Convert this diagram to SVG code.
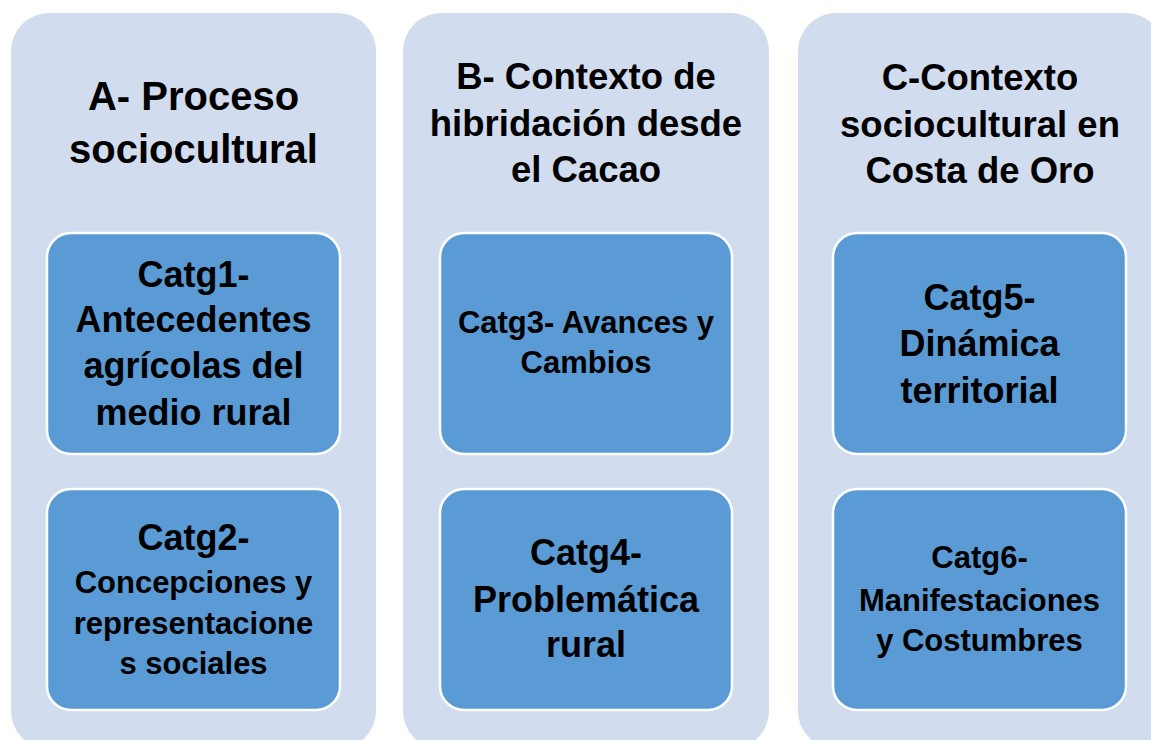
<svg xmlns="http://www.w3.org/2000/svg" width="1151" height="740" viewBox="0 0 1151 740">
<style>
.col{fill:#D1DCEE;}
.cat{fill:#5B9BD5;stroke:#FFFFFF;stroke-width:2.5;}
text{font-family:"Liberation Sans",Arial,sans-serif;font-weight:bold;fill:#000000;text-anchor:middle;}
.tA{font-size:40px;}
.tB{font-size:36.5px;}
.big{font-size:36px;}
.sm{font-size:31px;}
</style>
<rect width="1151" height="740" fill="#FFFFFF"/>
<g id="colA">
<rect class="col" x="11" y="13" width="365" height="736" rx="38"/>
<text class="tA" x="193.5" y="110">A- Proceso</text>
<text class="tA" x="193.5" y="163">sociocultural</text>
</g>
<g id="colB">
<rect class="col" x="403" y="13" width="366" height="736" rx="38"/>
<text class="tB" x="586" y="89">B- Contexto de</text>
<text class="tB" x="586" y="136">hibridación desde</text>
<text class="tB" x="586" y="182">el Cacao</text>
</g>
<g id="colC">
<rect class="col" x="798" y="13" width="366" height="736" rx="38"/>
<text class="tB" x="980" y="90">C-Contexto</text>
<text class="tB" x="980" y="137">sociocultural en</text>
<text class="tB" x="980" y="183">Costa de Oro</text>
</g>
<g id="catg1">
<rect class="cat" x="47" y="233" width="293" height="221" rx="24"/>
<text class="big" x="193.5" y="287">Catg1-</text>
<text class="big" x="193.5" y="332">Antecedentes</text>
<text class="big" x="193.5" y="378">agrícolas del</text>
<text class="big" x="193.5" y="425">medio rural</text>
</g>
<g id="catg2">
<rect class="cat" x="47" y="489" width="293" height="221" rx="24"/>
<text class="big" x="193.5" y="550">Catg2-</text>
<text class="sm" x="193.5" y="593">Concepciones y</text>
<text class="sm" x="193.5" y="634">representacione</text>
<text class="sm" x="193.5" y="674">s sociales</text>
</g>
<g id="catg3">
<rect class="cat" x="440" y="233" width="292" height="221" rx="24"/>
<text class="sm" x="586" y="333">Catg3- Avances y</text>
<text class="sm" x="586" y="373">Cambios</text>
</g>
<g id="catg4">
<rect class="cat" x="440" y="489" width="292" height="221" rx="24"/>
<text class="big" x="586" y="565">Catg4-</text>
<text class="big" x="586" y="612">Problemática</text>
<text class="big" x="586" y="657">rural</text>
</g>
<g id="catg5">
<rect class="cat" x="833" y="233" width="293" height="221" rx="24"/>
<text class="big" x="979.5" y="310">Catg5-</text>
<text class="big" x="979.5" y="356">Dinámica</text>
<text class="big" x="979.5" y="403">territorial</text>
</g>
<g id="catg6">
<rect class="cat" x="833" y="489" width="293" height="221" rx="24"/>
<text class="sm" x="979.5" y="568">Catg6-</text>
<text class="sm" x="979.5" y="611">Manifestaciones</text>
<text class="sm" x="979.5" y="651">y Costumbres</text>
</g>
<g id="connectors"></g>
</svg>
